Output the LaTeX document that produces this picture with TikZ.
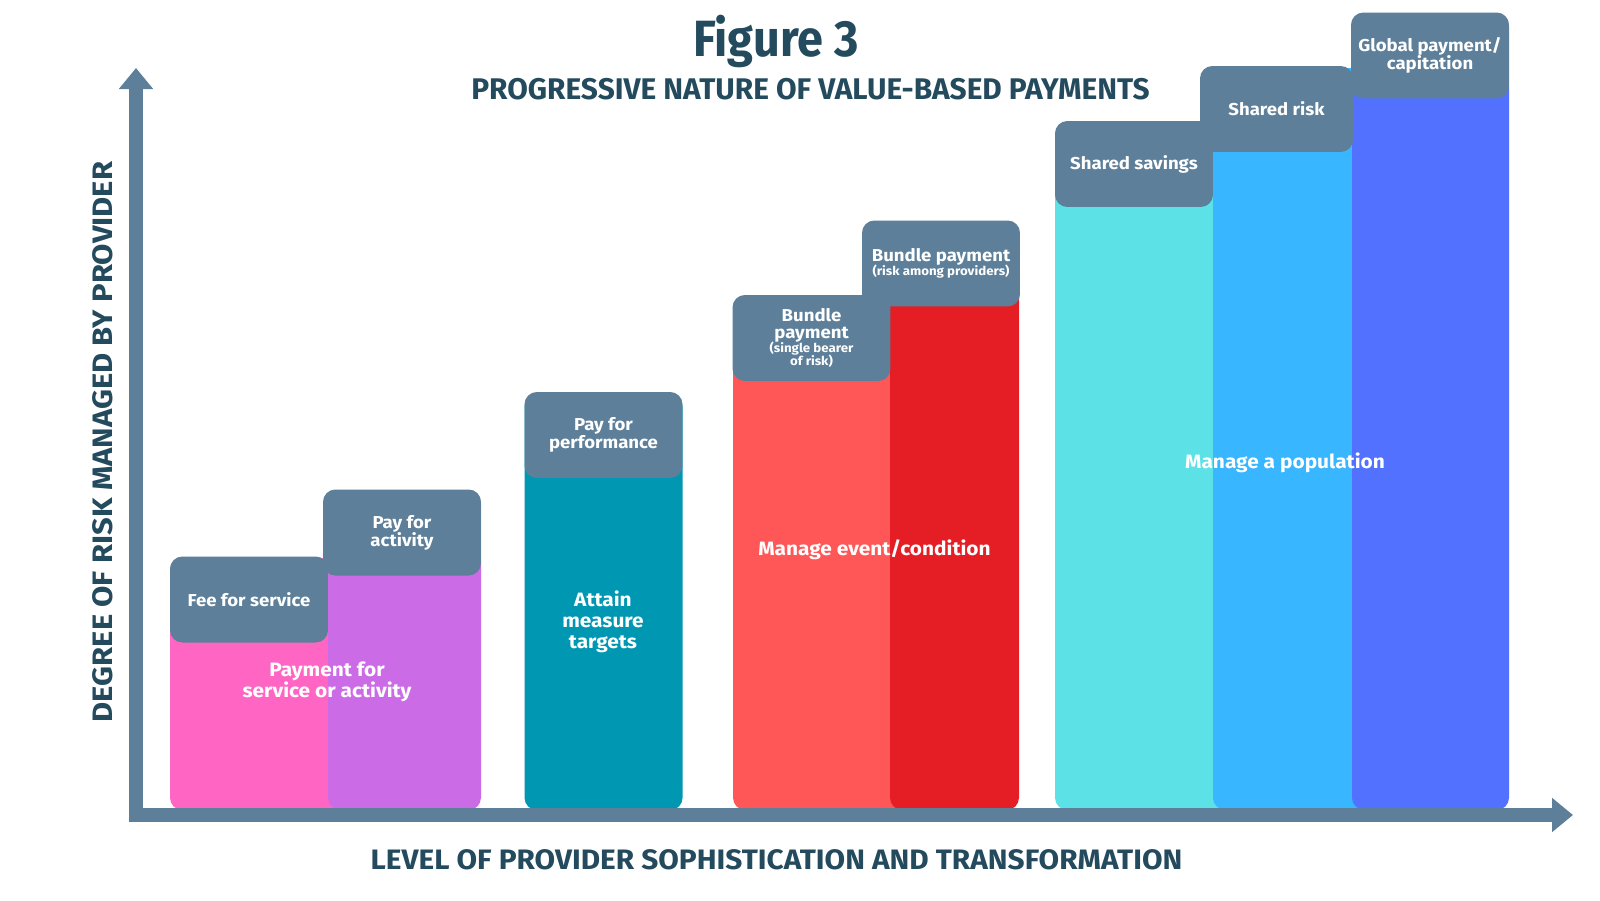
\documentclass[tikz,border=0pt]{standalone}
\usepackage{fontspec}
\setmainfont{Fira Sans}[FakeStretch=1.08]
\newfontfamily\headfont{Fira Sans}
\usetikzlibrary{arrows.meta}

\definecolor{slate}{RGB}{93,127,153}
\definecolor{ink}{RGB}{36,74,94}
\definecolor{pinkc}{RGB}{255,102,196}
\definecolor{purplec}{RGB}{203,108,230}
\definecolor{tealc}{RGB}{0,151,178}
\definecolor{redl}{RGB}{255,87,87}
\definecolor{redd}{RGB}{229,30,37}
\definecolor{cyanc}{RGB}{92,225,230}
\definecolor{skyc}{RGB}{56,182,255}
\definecolor{indigoc}{RGB}{82,113,255}

\newcommand{\paren}{\fontsize{7}{7.6}\selectfont}

\begin{document}
\begin{tikzpicture}[x=0.02cm,y=-0.02cm,
  pay/.style={rectangle,rounded corners=7pt,fill=slate,text=white,minimum width=3.16cm,minimum height=1.72cm,inner sep=0pt,align=center,font=\bfseries\fontsize{9.8}{10.2}\selectfont},
  big/.style={text=white,align=center,font=\bfseries\fontsize{11}{11.9}\selectfont},
  head/.style={anchor=base,text=ink},
  axis/.style={slate,line width=0.28cm,line cap=rect,-{Triangle[width=0.66cm,length=0.42cm]}}]
  \useasboundingbox (0,0) rectangle (1600,900);
  % bars
  \foreach \xa/\xb/\yt/\col in {170/340/558/pinkc,328/481/491/purplec,524.5/682.6/394/tealc,733/902/296/redl,890/1019/223/redd,1055/1225/123/cyanc,1213/1364/68/skyc,1352/1509/14/indigoc}
    \fill[\col,rounded corners=7pt] (\xa,\yt) rectangle (\xb,810);
  % axes
  \coordinate (O) at (136,815);
  \coordinate (ytip) at (136,68);
  \coordinate (xtip) at (1573,815);
  \draw[axis] (O) -- (ytip);
  \draw[axis] (O) -- (xtip);
  % payment boxes
  \node[pay] (fee) at (249,599.5) {Fee for service};
  \node[pay] (act) at (402,532.5) {Pay for\\activity};
  \node[pay] (perf) at (603.5,435) {Pay for\\performance};
  \node[pay] (bun1) at (811.5,338) {Bundle\\[-0.8pt]payment\\[-2pt]{\paren (single bearer}\\[-3pt]{\paren of risk)}};
  \node[pay] (bun2) at (941,263.5) {Bundle payment\\[-2.5pt]{\paren (risk among providers)}};
  \node[pay] (sav) at (1134,164) {Shared savings};
  \node[pay,minimum width=3.06cm] (risk) at (1276.5,109) {Shared risk};
  \node[pay] (glob) at (1430,55.5) {Global payment/\\capitation};
  % group labels
  \node[big] (svc) at (327,682) {Payment for\\service or activity};
  \node[big] (att) at (603,622) {Attain\\measure\\targets};
  \node[big] (evt) at (874.5,550) {Manage event/condition};
  \node[big] (pop) at (1285,463) {Manage a population};
  % titles
  \node[head,font=\headfont\bfseries\fontsize{29}{31}\selectfont] (title) at (776,56) {\scalebox{0.92}[1]{Figure 3}};
  \node[head,font=\headfont\bfseries\fontsize{17}{19}\selectfont] (sub) at (810.5,99) {PROGRESSIVE NATURE OF VALUE-BASED PAYMENTS};
  \node[head,rotate=90,font=\headfont\bfseries\fontsize{16}{18}\selectfont] (ylab) at (112,442) {\scalebox{1.1}[1]{DEGREE OF RISK MANAGED BY PROVIDER}};
  \node[head,font=\headfont\bfseries\fontsize{16}{18}\selectfont] (xlab) at (776.5,869) {\scalebox{1.06}[1]{LEVEL OF PROVIDER SOPHISTICATION AND TRANSFORMATION}};
\end{tikzpicture}
\end{document}
